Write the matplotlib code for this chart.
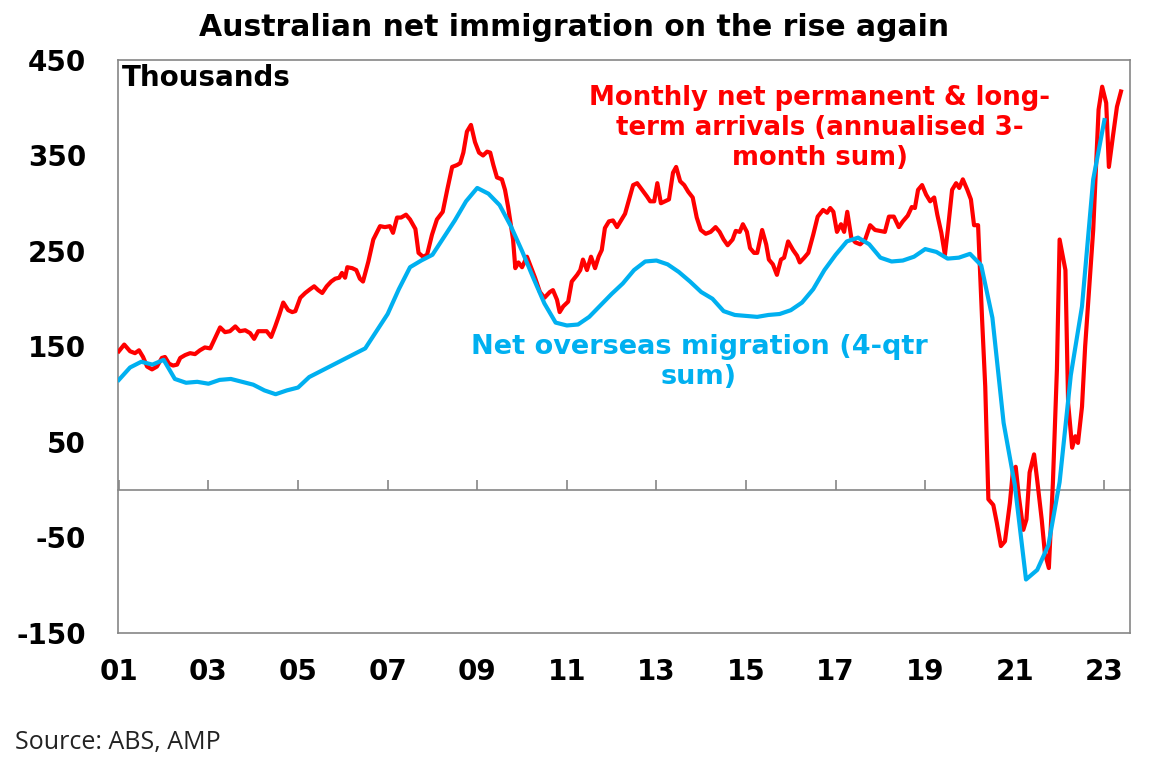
import numpy as np
import matplotlib.pyplot as plt

plt.rcParams['font.family'] = ['DejaVu Sans']
plt.rcParams['font.weight'] = 'bold'
plt.rcParams['axes.unicode_minus'] = False

RED = '#FF0000'
BLUE = '#00B0F0'
GREY = '#868686'

# Net overseas migration, 4-qtr sum ('000), quarterly from early 2001
nom_start = 2001.0
nom = [115, 128, 134, 131, 136, 116, 112, 113, 111, 115, 116, 113,
       110, 104, 100, 104, 107, 118, 124, 130, 136, 142, 148, 166,
       184, 210, 233, 240, 246, 264, 282, 302, 316, 310, 298, 276,
       250, 222, 195, 175, 172, 173, 181, 193, 205, 216, 230, 239,
       240, 236, 228, 218, 207, 200, 187, 183, 182, 181, 183, 184,
       188, 196, 210, 230, 246, 260, 264, 257, 243, 239, 240, 244,
       252, 249, 242, 243, 247, 235, 180, 70, 5, -94, -84, -58,
       8, 120, 192, 325, 387]

# Monthly net permanent & long-term arrivals, annualised 3-month sum ('000)
plta_dates = [2001.00, 2001.12, 2001.25, 2001.36, 2001.45, 2001.54, 2001.63, 2001.74, 2001.85, 2001.96,
              2002.03, 2002.12, 2002.21, 2002.30, 2002.37, 2002.48, 2002.59, 2002.70, 2002.81, 2002.92,
              2003.04, 2003.15, 2003.26, 2003.37, 2003.48, 2003.60, 2003.70, 2003.82, 2003.93,
              2004.02, 2004.11, 2004.22, 2004.30, 2004.40, 2004.49, 2004.58, 2004.67, 2004.78, 2004.87, 2004.94,
              2005.05, 2005.16, 2005.27, 2005.36, 2005.45, 2005.54, 2005.64, 2005.74, 2005.83, 2005.92, 2005.98,
              2006.05, 2006.10, 2006.21, 2006.30, 2006.38, 2006.45, 2006.57, 2006.68, 2006.83, 2006.94,
              2007.05, 2007.12, 2007.21, 2007.30, 2007.41, 2007.50, 2007.62, 2007.69, 2007.79, 2007.88, 2007.99,
              2008.10, 2008.23, 2008.33, 2008.44, 2008.55, 2008.62, 2008.69, 2008.77, 2008.86, 2008.95,
              2009.04, 2009.13, 2009.22, 2009.29, 2009.36, 2009.44, 2009.55, 2009.62, 2009.69, 2009.80, 2009.85, 2009.92,
              2010.00, 2010.11, 2010.20, 2010.29, 2010.40, 2010.50, 2010.62, 2010.69, 2010.78, 2010.84, 2010.92,
              2011.03, 2011.11, 2011.23, 2011.30, 2011.36, 2011.45, 2011.54, 2011.63, 2011.71, 2011.78, 2011.85, 2011.94,
              2012.03, 2012.12, 2012.21, 2012.30, 2012.39, 2012.48, 2012.57, 2012.68, 2012.79, 2012.86, 2012.95,
              2013.02, 2013.10, 2013.19, 2013.28, 2013.37, 2013.44, 2013.53, 2013.62, 2013.71, 2013.81, 2013.90, 2013.99,
              2014.10, 2014.21, 2014.32, 2014.41, 2014.50, 2014.59, 2014.70, 2014.77, 2014.86, 2014.93,
              2015.02, 2015.09, 2015.18, 2015.25, 2015.36, 2015.45, 2015.51, 2015.60, 2015.69, 2015.78, 2015.85, 2015.94,
              2016.05, 2016.14, 2016.20, 2016.30, 2016.39, 2016.50, 2016.60, 2016.72, 2016.81, 2016.88, 2016.95,
              2017.03, 2017.12, 2017.19, 2017.26, 2017.35, 2017.44, 2017.55, 2017.66, 2017.77, 2017.88, 2017.99,
              2018.10, 2018.19, 2018.30, 2018.41, 2018.50, 2018.61, 2018.70, 2018.77, 2018.84, 2018.93,
              2019.02, 2019.11, 2019.20, 2019.27, 2019.36, 2019.44, 2019.51, 2019.60, 2019.69, 2019.76, 2019.84, 2019.94,
              2020.02, 2020.09, 2020.18, 2020.27, 2020.34, 2020.41, 2020.52, 2020.60, 2020.69, 2020.78, 2020.89, 2020.96,
              2021.02, 2021.09, 2021.19, 2021.26, 2021.33, 2021.43, 2021.50, 2021.60, 2021.67, 2021.76, 2021.85, 2021.94,
              2022.00, 2022.13, 2022.19, 2022.28, 2022.35, 2022.41, 2022.50, 2022.57, 2022.75, 2022.87, 2022.95,
              2023.04, 2023.10, 2023.19, 2023.28, 2023.37]
plta = [145, 152, 145, 143, 146, 139, 129, 126, 129, 138,
        139, 132, 130, 131, 138, 141, 143, 142, 146, 149,
        148, 159, 170, 165, 166, 171, 166, 167, 164,
        158, 166, 166, 166, 160, 171, 183, 196, 188, 186, 187,
        201, 206, 210, 213, 209, 206, 213, 218, 221, 222, 227,
        222, 233, 232, 230, 221, 218, 239, 262, 276, 275,
        276, 269, 285, 285, 288, 283, 273, 248, 244, 246, 267,
        283, 291, 314, 338, 340, 342, 353, 375, 382, 364,
        353, 350, 354, 353, 340, 327, 325, 314, 296, 262, 232, 238,
        233, 244, 233, 222, 207, 201, 207, 209, 199, 186, 192,
        197, 218, 225, 230, 241, 230, 244, 232, 244, 251, 274, 281,
        282, 275, 282, 289, 304, 319, 321, 314, 307, 302, 302,
        321, 300, 302, 304, 332, 338, 323, 319, 312, 306, 285, 272,
        268, 270, 275, 270, 262, 256, 262, 271, 270, 278,
        270, 253, 248, 248, 272, 257, 241, 236, 225, 241, 243, 260,
        251, 245, 238, 243, 248, 267, 286, 293, 290, 295, 291,
        270, 278, 270, 291, 264, 259, 257, 262, 277, 272, 271,
        270, 286, 286, 275, 281, 287, 296, 295, 314, 319,
        309, 302, 306, 288, 269, 246, 274, 314, 321, 316, 325, 314,
        304, 277, 277, 178, 108, -10, -16, -35, -59, -54, -14, 21,
        24, -7, -42, -31, 18, 37, 10, -31, -66, -82, 7, 126,
        262, 230, 91, 44, 56, 49, 87, 150, 272, 398, 422,
        405, 338, 370, 401, 417]

year_ticks = list(range(2001, 2024, 2))
year_labels = [f"{y % 100:02d}" for y in year_ticks]
y_ticks = [-150, -50, 50, 150, 250, 350, 450]

fig = plt.figure(figsize=(11.53, 7.80), dpi=100)
ax = fig.add_axes([0.1023, 0.1885, 0.8777, 0.7346])

nom_dates = nom_start + 0.25 * np.arange(len(nom))
ax.plot(plta_dates, plta, color=RED, lw=3, solid_joinstyle='round', zorder=3)
ax.plot(nom_dates, nom, color=BLUE, lw=3, solid_joinstyle='round', zorder=4)

ax.set_xlim(2000.98, 2023.57)
ax.set_ylim(-150, 450)
ax.set_xticks(year_ticks)
ax.set_xticklabels(year_labels)
ax.set_yticks(y_ticks)
ax.tick_params(axis='both', length=0, labelsize=20)
ax.tick_params(axis='y', pad=23)
ax.tick_params(axis='x', pad=18)
for s in ax.spines.values():
    s.set_color(GREY)
    s.set_linewidth(1.2)

# zero line with year ticks pointing up
zero = ax.secondary_xaxis(0.25)
zero.set_xticks(year_ticks)
zero.tick_params(axis='x', direction='in', length=7, width=1.2, color=GREY, labelbottom=False)
zero.spines['bottom'].set_color(GREY)
zero.spines['bottom'].set_linewidth(1.2)

ax.text(0.004, 0.9686, "Thousands", transform=ax.transAxes, fontsize=20,
        ha='left', va='center')
ax.text(2016.65, 379, "Monthly net permanent & long-\nterm arrivals (annualised 3-\nmonth sum)",
        color=RED, fontsize=18.7, ha='center', va='center', multialignment='center')
ax.text(2013.95, 134, "Net overseas migration (4-qtr\nsum)",
        color=BLUE, fontsize=19.5, ha='center', va='center', multialignment='center')

fig.text(0.4975, 1 - 27 / 780, "Australian net immigration on the rise again",
         fontsize=21.5, ha='center', va='center')
fig.text(15 / 1153, 1 - 743 / 780, "Source: ABS, AMP", family='Open Sans',
         fontweight='normal', fontsize=18, color='#222222', ha='left', va='center')

fig.savefig("out.png", dpi=100)
